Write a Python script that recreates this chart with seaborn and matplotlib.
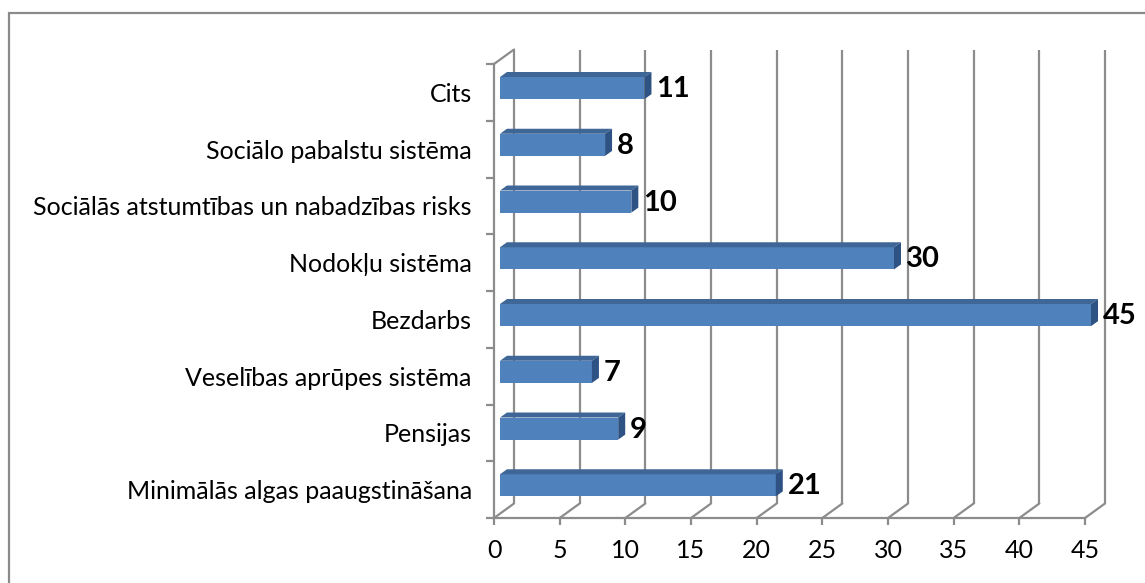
import numpy as np
import matplotlib
matplotlib.use("Agg")
import matplotlib.pyplot as plt
import seaborn as sns
import pandas as pd
from matplotlib.patches import Polygon, Rectangle

categories = [
    "Cits",
    "Sociālo pabalstu sistēma",
    "Sociālās atstumtības un nabadzības risks",
    "Nodokļu sistēma",
    "Bezdarbs",
    "Veselības aprūpes sistēma",
    "Pensijas",
    "Minimālās algas paaugstināšana",
]
values = [11, 8, 10, 30, 45, 7, 9, 21]
xticks = [0, 5, 10, 15, 20, 25, 30, 35, 40, 45]

sns.set_theme(style="white")
plt.rcParams["font.family"] = ["Lato", "DejaVu Sans"]

W, H = 1145, 583
fig = plt.figure(figsize=(W / 100, H / 100), dpi=100)
fig.patch.set_facecolor("white")

# outer frame
fig.patches.append(Rectangle((9 / W, -0.1), 1.2, (H - 13) / H + 0.1, transform=fig.transFigure,
                             fill=False, edgecolor="#8a8a8a", linewidth=1.6))

left_px, right_px, top_px, bot_px = 494, 1085, 64, 518
ax = fig.add_axes([left_px / W, (H - bot_px) / H, (right_px - left_px) / W, (bot_px - top_px) / H])

df = pd.DataFrame({"cat": categories, "val": values})
sns.barplot(data=df, x="val", y="cat", orient="h", width=0.39, color="#4F81BD",
            saturation=1, ax=ax, zorder=3)

n = len(categories)
ax.set_xlim(0, 45)
ax.set_ylim(n - 0.5, -0.5)

ux = 45 / (right_px - left_px)
uy = n / (bot_px - top_px)
gray = "#8c8c8c"
lw = 1.6
# depth offsets
bx, by = 20 * ux, -14.5 * uy

# back wall gridlines
for t in xticks:
    ax.plot([t + bx, t + bx], [n - 0.5 + by, -0.5 + by], color=gray, lw=lw, clip_on=False, zorder=1,
            solid_capstyle="butt")
    ax.plot([t, t + bx], [n - 0.5, n - 0.5 + by], color=gray, lw=lw, clip_on=False, zorder=1)
ax.plot([0, bx], [-0.5, -0.5 + by], color=gray, lw=lw, clip_on=False, zorder=1)

# bars 3D
fx, fy = 6 * ux, -4.3 * uy
dx, dy = 7 * ux, -5 * uy
for p in ax.patches:
    x0, y0 = p.get_x(), p.get_y()
    w, h = p.get_width(), p.get_height()
    p.set_x(x0 + fx)
    p.set_y(y0 + fy)
    p.set_edgecolor("none")
    X0, X1 = x0 + fx, x0 + w + fx
    Yt, Yb = y0 + fy, y0 + h + fy
    top = Polygon([(X0, Yt), (X1, Yt), (X1 + dx, Yt + dy), (X0 + dx, Yt + dy)],
                  closed=True, facecolor="#3E6696", edgecolor="none", clip_on=False, zorder=3)
    side = Polygon([(X1, Yt), (X1, Yb), (X1 + dx, Yb + dy), (X1 + dx, Yt + dy)],
                   closed=True, facecolor="#2E5283", edgecolor="none", clip_on=False, zorder=3)
    ax.add_patch(top)
    ax.add_patch(side)
    p.set_clip_on(False)
    ax.text(X1 + dx + 5 * ux, (Yt + Yb) / 2 + 1 * uy, f"{int(round(w))}", ha="left", va="center",
            fontsize=21, fontweight="bold", color="black", clip_on=False, zorder=4)

# spines & ticks
for s in ["top", "right"]:
    ax.spines[s].set_visible(False)
for s in ["left", "bottom"]:
    ax.spines[s].set_color(gray)
    ax.spines[s].set_linewidth(lw)
    ax.spines[s].set_zorder(2)

ax.set_xticks(xticks)
ax.set_xticklabels([str(t) for t in xticks])
ax.set_yticks(np.arange(-0.5, n, 1.0), minor=True)
ax.tick_params(axis="x", which="major", length=5, width=lw, color=gray, direction="out",
               pad=10, labelsize=18, labelcolor="black", bottom=True)
ax.tick_params(axis="y", which="major", length=0, pad=16, labelsize=18, labelcolor="black")
ax.tick_params(axis="y", which="minor", length=6, width=lw, color=gray, direction="out", left=True)
ax.set_xlabel("")
ax.set_ylabel("")
ax.set_facecolor("none")
ax.grid(False)

fig.savefig("out.png", dpi=100, facecolor="white")
